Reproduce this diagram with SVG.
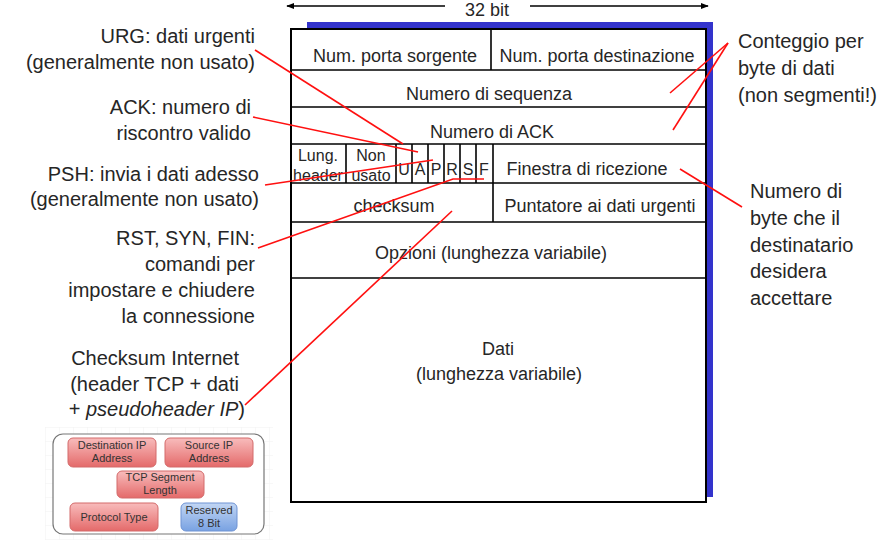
<svg xmlns="http://www.w3.org/2000/svg" width="890" height="544" viewBox="0 0 890 544">
<style>
.t{font-family:"Liberation Sans",Arial,sans-serif;fill:#262626}
.box{font-size:18px;text-anchor:middle}
.sm{font-size:16px;text-anchor:middle}
.lab{font-size:20px;text-anchor:end}
.labr{font-size:20px;text-anchor:start}
.ph{font-family:"Liberation Sans",Arial,sans-serif;font-size:11px;fill:#333;text-anchor:middle}
.grid line{stroke:#000;stroke-width:1.6}
.red{stroke:#ff1010;stroke-width:1.6;fill:none}
.rbox{fill:url(#gRed);stroke:#d36a6a;stroke-width:1}
.bbox{fill:url(#gBlue);stroke:#6f93d3;stroke-width:1}
</style>
<defs>
<marker id="arr" viewBox="0 0 10 10" refX="9" refY="5" markerWidth="8" markerHeight="8" orient="auto-start-reverse" markerUnits="userSpaceOnUse">
<path d="M0,1 L10,5 L0,9 Z" fill="#000"/>
</marker>
<linearGradient id="gRed" x1="0" y1="0" x2="0" y2="1">
<stop offset="0" stop-color="#f8bcbc"/>
<stop offset="1" stop-color="#e46a6a"/>
</linearGradient>
<linearGradient id="gBlue" x1="0" y1="0" x2="0" y2="1">
<stop offset="0" stop-color="#c2d6f4"/>
<stop offset="1" stop-color="#79a2e2"/>
</linearGradient>
<pattern id="faint" width="14" height="14" patternUnits="userSpaceOnUse" x="45" y="427">
<path d="M14,0 L0,0 L0,14" fill="none" stroke="#f1f1f1" stroke-width="1"/>
</pattern>
</defs>

<g id="width-label">
<line x1="287" y1="6" x2="445" y2="6" stroke="#000" stroke-width="1.5" marker-start="url(#arr)"/>
<line x1="530" y1="6" x2="708" y2="6" stroke="#000" stroke-width="1.5" marker-end="url(#arr)"/>
<text class="t box" x="487" y="16">32 bit</text>
</g>

<g id="segment">
<rect x="307" y="22" width="406" height="475" fill="#3333cc"/>
<rect x="291" y="29" width="415" height="473" fill="#fff" stroke="#000" stroke-width="2"/>
<g class="grid">
<line x1="291" y1="70" x2="706" y2="70"/>
<line x1="291" y1="107" x2="706" y2="107"/>
<line x1="291" y1="144" x2="706" y2="144"/>
<line x1="291" y1="183" x2="706" y2="183"/>
<line x1="291" y1="222" x2="706" y2="222"/>
<line x1="291" y1="278" x2="706" y2="278"/>
<line x1="491" y1="29" x2="491" y2="70"/>
<line x1="493" y1="144" x2="493" y2="222"/>
<line x1="346" y1="144" x2="346" y2="183"/>
<line x1="396" y1="144" x2="396" y2="183"/>
<line x1="412" y1="144" x2="412" y2="183"/>
<line x1="428" y1="144" x2="428" y2="183"/>
<line x1="444" y1="144" x2="444" y2="183"/>
<line x1="460" y1="144" x2="460" y2="183"/>
<line x1="476" y1="144" x2="476" y2="183"/>
</g>
<text class="t box" x="395" y="62">Num. porta sorgente</text>
<text class="t box" x="597" y="62">Num. porta destinazione</text>
<text class="t box" x="489" y="100">Numero di sequenza</text>
<text class="t box" x="492" y="138">Numero di ACK</text>
<text class="t sm" x="318" y="161">Lung.</text>
<text class="t sm" x="318" y="181">header</text>
<text class="t sm" x="371" y="161">Non</text>
<text class="t sm" x="371" y="181">usato</text>
<text class="t sm" x="404" y="175">U</text>
<text class="t sm" x="420" y="175">A</text>
<text class="t sm" x="436" y="175">P</text>
<text class="t sm" x="452" y="175">R</text>
<text class="t sm" x="468" y="175">S</text>
<text class="t sm" x="484" y="175">F</text>
<text class="t box" x="587" y="175">Finestra di ricezione</text>
<text class="t box" x="394" y="212">checksum</text>
<text class="t box" x="600" y="212">Puntatore ai dati urgenti</text>
<text class="t box" x="491" y="259">Opzioni (lunghezza variabile)</text>
<text class="t box" x="498" y="355">Dati</text>
<text class="t box" x="499" y="380">(lunghezza variabile)</text>
</g>

<g id="note-urg">
<text class="t lab" x="255" y="43">URG: dati urgenti</text>
<text class="t lab" x="255" y="69">(generalmente non usato)</text>
</g>
<g id="note-ack">
<text class="t lab" x="251" y="114">ACK: numero di</text>
<text class="t lab" x="251" y="140">riscontro valido</text>
</g>
<g id="note-psh">
<text class="t lab" x="259" y="181">PSH: invia i dati adesso</text>
<text class="t lab" x="259" y="206">(generalmente non usato)</text>
</g>
<g id="note-rst">
<text class="t lab" x="255" y="245">RST, SYN, FIN:</text>
<text class="t lab" x="255" y="271">comandi per</text>
<text class="t lab" x="255" y="297">impostare e chiudere</text>
<text class="t lab" x="255" y="323">la connessione</text>
</g>
<g id="note-checksum">
<text class="t lab" x="239" y="365">Checksum Internet</text>
<text class="t lab" x="239" y="391">(header TCP + dati</text>
<text class="t lab" x="245" y="416">+ <tspan font-style="italic">pseudoheader IP</tspan>)</text>
</g>
<g id="note-conteggio">
<text class="t labr" x="738" y="48">Conteggio per</text>
<text class="t labr" x="738" y="75">byte di dati</text>
<text class="t labr" x="738" y="102">(non segmenti!)</text>
</g>
<g id="note-finestra">
<text class="t labr" x="750" y="198">Numero di</text>
<text class="t labr" x="750" y="225">byte che il</text>
<text class="t labr" x="750" y="252">destinatario</text>
<text class="t labr" x="750" y="278">desidera</text>
<text class="t labr" x="750" y="305">accettare</text>
</g>

<g id="pseudoheader">
<rect x="45" y="427" width="228" height="113" fill="url(#faint)"/>
<rect x="53" y="434" width="211" height="100" rx="10" fill="#fff" stroke="#777" stroke-width="1.2"/>
<rect class="rbox" x="68" y="438" width="88" height="29" rx="5"/>
<rect class="rbox" x="165" y="438" width="88" height="29" rx="5"/>
<rect class="rbox" x="117" y="471" width="87" height="27" rx="5"/>
<rect class="rbox" x="70" y="503" width="88" height="28" rx="5"/>
<rect class="bbox" x="181" y="503" width="56" height="28" rx="5"/>
<text class="ph" x="112" y="449">Destination IP</text>
<text class="ph" x="112" y="462">Address</text>
<text class="ph" x="209" y="449">Source IP</text>
<text class="ph" x="209" y="462">Address</text>
<text class="ph" x="160" y="481">TCP Segment</text>
<text class="ph" x="160" y="494">Length</text>
<text class="ph" x="114" y="521">Protocol Type</text>
<text class="ph" x="209" y="514">Reserved</text>
<text class="ph" x="209" y="527">8 Bit</text>
</g>

<g id="connectors">
<line class="red" x1="255" y1="50" x2="403" y2="144"/>
<line class="red" x1="253" y1="117" x2="418" y2="152"/>
<line class="red" x1="265" y1="185" x2="433" y2="160"/>
<polyline class="red" points="258,248 453,179 484,179"/>
<line class="red" x1="245" y1="405" x2="452" y2="211"/>
<line class="red" x1="728" y1="43" x2="670" y2="93"/>
<line class="red" x1="728" y1="43" x2="673" y2="130"/>
<line class="red" x1="680" y1="169" x2="742" y2="207"/>
</g>
</svg>
